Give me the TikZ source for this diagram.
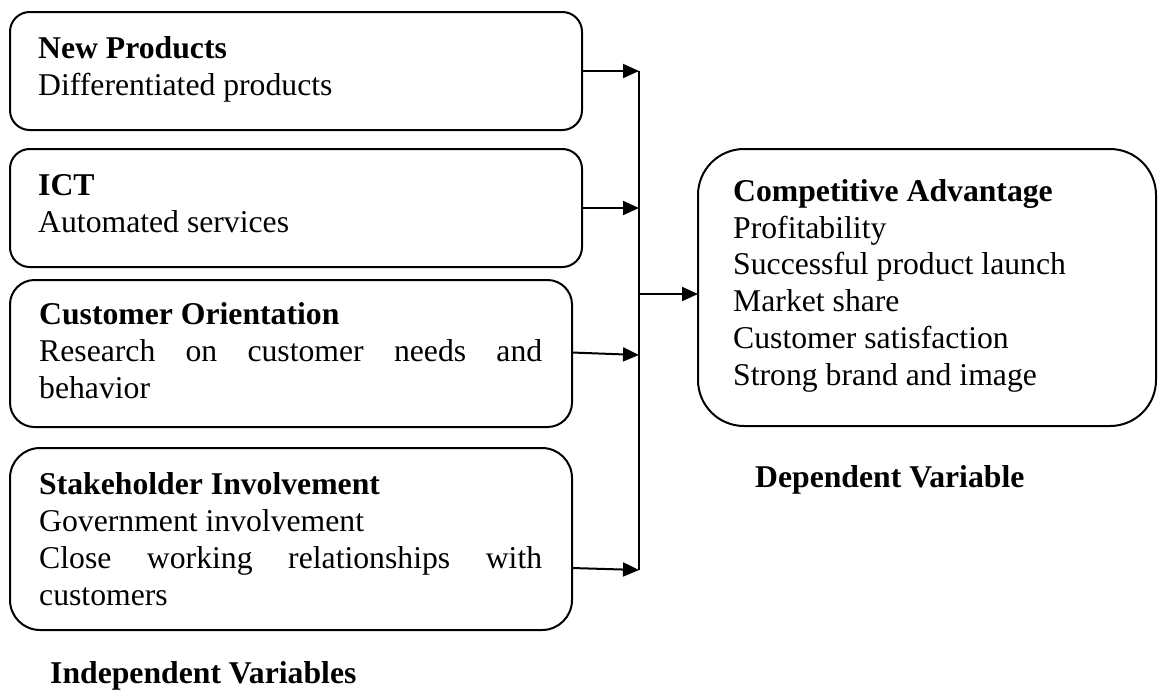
\documentclass[tikz,border=0pt]{standalone}
\usepackage{fontspec}
\setmainfont{Liberation Serif}
\usetikzlibrary{arrows.meta}
\begin{document}
\begin{tikzpicture}[x=1pt,y=-1pt,
  frame/.style={draw, line width=2pt, inner sep=0pt, outer sep=0pt, anchor=north west},
  body/.style={anchor=base west, inner sep=0pt, align=left,
    font=\fontsize{31.7}{36.7}\selectfont},
  link/.style={line width=2pt, -{Triangle[length=16pt,width=14pt]}},
  bus/.style={line width=2pt}]
\useasboundingbox (0,0) rectangle (1158,689);

% independent variable boxes
\node[frame, rounded corners=19.7pt, minimum width=572pt, minimum height=118pt] (np) at (10,12) {};
\node[frame, rounded corners=19.7pt, minimum width=572pt, minimum height=118pt] (ict) at (10,149) {};
\node[frame, rounded corners=24.5pt, minimum width=562pt, minimum height=147pt] (cust) at (10,280) {};
\node[frame, rounded corners=30pt, minimum width=562pt, minimum height=182pt] (stake) at (10,448) {};

% dependent variable box
\node[frame, rounded corners=46pt, minimum width=458pt, minimum height=277pt] (cav) at (698,149) {};

% box contents (anchored at the baseline of their last line)
\node[body] (npt) at (38,95) {\textbf{New Products}\\Differentiated products};
\node[body] (ictt) at (38,232) {\textbf{ICT}\\Automated services};
\node[body] (custt) at (39,398) {\textbf{Customer Orientation}\\
  \makebox[503pt][s]{Research on customer needs and}\\behavior};
\node[body] (staket) at (39,605) {\textbf{Stakeholder Involvement}\\Government involvement\\
  \makebox[503pt][s]{Close working relationships with}\\customers};
\node[body] (cavt) at (733,385) {\textbf{Competitive Advantage}\\Profitability\\
  Successful product launch\\Market share\\Customer satisfaction\\Strong brand and image};

% captions
\node[body] (indep) at (50,683) {\textbf{Independent Variables}};
\node[body] (dep) at (755,487) {\textbf{Dependent Variable}};

% collecting bus and arrows
\coordinate (t1) at (639,71);
\coordinate (t2) at (639,208);
\coordinate (t3) at (639,355);
\coordinate (t4) at (639,570);
\coordinate (tc) at (639,294);

\draw[bus] (t1) -- (t4);
\draw[link] (np.east) -- (t1);
\draw[link] (ict.east) -- (t2);
\draw[link] ([yshift=1pt]cust.east) -- (t3);
\draw[link] ([yshift=-29pt]stake.east) -- (t4);
\draw[link] (tc) -- (cav.west |- tc);
\end{tikzpicture}
\end{document}
